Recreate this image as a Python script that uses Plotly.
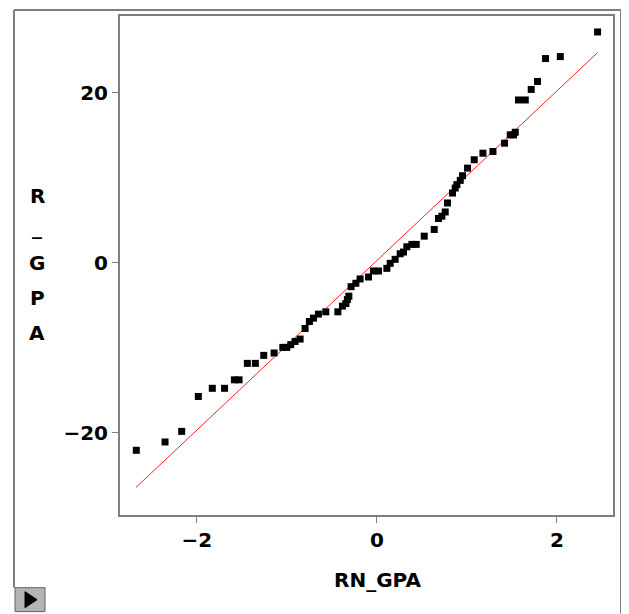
import plotly.graph_objects as go

# Normal quantile plot data
rn_gpa = [-2.671, -2.352, -2.167, -1.982, -1.827, -1.691, -1.582, -1.530, -1.438, -1.349,
          -1.256, -1.141, -1.044, -1.000, -0.956, -0.908, -0.852, -0.797, -0.749, -0.704,
          -0.649, -0.567, -0.433, -0.382, -0.344, -0.327, -0.311, -0.286, -0.233, -0.186,
          -0.093, -0.038, 0.018, 0.111, 0.148, 0.203, 0.259, 0.296, 0.333, 0.389,
          0.437, 0.526, 0.637, 0.684, 0.722, 0.759, 0.784, 0.840, 0.870, 0.889,
          0.926, 0.951, 1.007, 1.081, 1.178, 1.289, 1.418, 1.481, 1.518, 1.537,
          1.573, 1.648, 1.714, 1.784, 1.873, 2.037, 2.451]
r_gpa = [-22.09, -21.11, -19.86, -15.75, -14.79, -14.79, -13.79, -13.79, -11.85, -11.85,
         -10.91, -10.63, -9.97, -9.97, -9.65, -9.27, -8.99, -7.74, -6.92, -6.52,
         -6.05, -5.78, -5.78, -5.11, -4.81, -4.34, -3.94, -2.82, -2.42, -1.91,
         -1.68, -0.97, -0.97, -0.66, -0.07, 0.40, 1.06, 1.26, 1.88, 2.16,
         2.16, 3.13, 3.92, 5.21, 5.48, 5.98, 7.04, 8.21, 8.80, 9.20,
         9.70, 10.25, 11.14, 12.13, 12.90, 13.10, 14.08, 15.06, 15.06, 15.37,
         19.17, 19.17, 20.41, 21.35, 24.05, 24.28, 27.18]

# Reference (normal) line end points
ref_line_x = [-2.674, 2.451]
ref_line_y = [-26.46, 24.75]

x_ticks = [-2, 0, 2]
y_ticks = [-20, 0, 20]
x_title = "RN_GPA"
y_title_chars = ["R", "_", "G", "P", "A"]

# page has an 8px body margin -> work in figure coords = page coords - 8
OFF = 8
W, H = 629 - OFF, 614 - OFF
L, T = 120 - OFF, 14 - OFF
R = W - (613 - OFF)
B = H - (515 - OFF)
pw, ph = W - L - R, H - T - B

def px(xp):
    return (xp - OFF - L) / pw

def py(yp):
    return (H - B - (yp - OFF)) / ph

FONT = dict(family="DejaVu Sans", size=20, color="black", weight="bold")
GRAY = "#7f7f7f"

fig = go.Figure()
fig.add_trace(go.Scatter(x=ref_line_x, y=ref_line_y, mode="lines",
                         line=dict(color="#ff2020", width=1), hoverinfo="skip"))
fig.add_trace(go.Scatter(x=rn_gpa, y=r_gpa, mode="markers",
                         marker=dict(symbol="square", size=7, color="black",
                                     line=dict(width=0))))

fig.update_layout(
    width=W, height=H,
    margin=dict(l=L, r=R, t=T, b=B),
    paper_bgcolor="white", plot_bgcolor="white",
    showlegend=False,
    font=FONT,
)
fig.update_xaxes(range=[-2.852, 2.622], tickvals=x_ticks,
                 ticktext=[str(v).replace("-", "\u2212") for v in x_ticks],
                 showgrid=False, zeroline=False, showline=True, mirror=True,
                 linecolor=GRAY, linewidth=2, ticks="outside", ticklen=6,
                 tickcolor=GRAY, tickwidth=1, tickfont=FONT)
fig.update_yaxes(range=[-29.71, 29.06], tickvals=y_ticks,
                 ticktext=[str(v).replace("-", "\u2212") for v in y_ticks],
                 showgrid=False, zeroline=False, showline=True, mirror=True,
                 linecolor=GRAY, linewidth=2, ticks="outside", ticklen=6,
                 tickcolor=GRAY, tickwidth=1, tickfont=FONT)

annotations = [dict(text=x_title, x=px(377), y=py(580), xref="paper", yref="paper",
                    showarrow=False, font=FONT, xanchor="center", yanchor="middle")]
char_y = [195, 226, 262, 297, 332]
for ch, cy in zip(y_title_chars, char_y):
    annotations.append(dict(text=ch, x=px(37), y=py(cy), xref="paper", yref="paper",
                            showarrow=False, font=FONT, xanchor="center", yanchor="middle"))
fig.update_layout(annotations=annotations)

shapes = [
    # outer frame
    dict(type="line", xref="paper", yref="paper", x0=px(14), x1=px(621), y0=py(8), y1=py(8),
         line=dict(color=GRAY, width=2)),
    dict(type="line", xref="paper", yref="paper", x0=px(14), x1=px(14), y0=py(8), y1=py(588),
         line=dict(color=GRAY, width=2)),
    dict(type="line", xref="paper", yref="paper", x0=px(621), x1=px(621), y0=py(8), y1=py(614),
         line=dict(color=GRAY, width=2)),
    # small button
    dict(type="rect", xref="paper", yref="paper", x0=px(15), x1=px(45), y0=py(612), y1=py(588),
         fillcolor="#b4b4b4", line=dict(color="#606060", width=1)),
    dict(type="path", xref="paper", yref="paper",
         path=f"M {px(25)},{py(592)} L {px(25)},{py(608)} L {px(37)},{py(600)} Z",
         fillcolor="black", line=dict(color="black", width=1)),
]
fig.update_layout(shapes=shapes)

fig.write_html("out.html")
